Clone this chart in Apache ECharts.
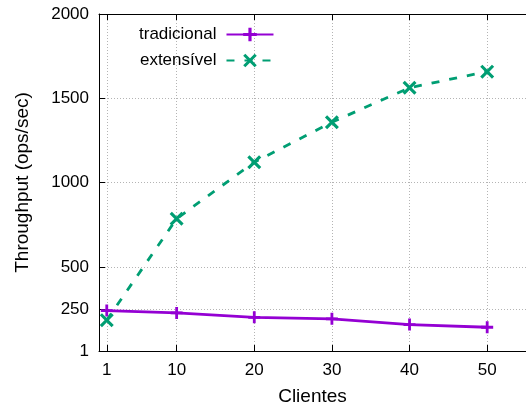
<!DOCTYPE html>
<html>
<head>
<meta charset="utf-8">
<script src="https://cdn.jsdelivr.net/npm/echarts@6/dist/echarts.min.js"></script>
<style>html,body{margin:0;padding:0;background:#fff;}#c{width:526px;height:411px;}</style>
</head>
<body>
<div id="c"></div>
<script>
const clientes = [1, 10, 20, 30, 40, 50];
const tradicional = [241, 227, 201, 192, 158, 142];
const extensivel = [184, 786, 1121, 1358, 1563, 1658];
const xTicks = [1, 10, 20, 30, 40, 50];
const yTicks = [1, 250, 500, 1000, 1500, 2000];

const FONT = 'Liberation Sans';
const PLUS = 'path://M4.6,0H7.4V4.6H12V7.4H7.4V12H4.6V7.4H0V4.6H4.6Z';
const CROSS = 'path://M0,1.9L1.9,0L12,10.1L10.1,12ZM10.1,0L12,1.9L1.9,12L0,10.1Z';

const chart = echarts.init(document.getElementById('c'), null, {renderer: 'canvas'});
const gridLine = {show: true, lineStyle: {color: '#b4b4b4', width: 1, type: [1, 2]}};
chart.setOption({
  animation: false,
  backgroundColor: '#fff',
  textStyle: {fontFamily: FONT},
  grid: {left: 99, top: 14, bottom: 59, right: -6, containLabel: false},
  legend: {
    orient: 'vertical', align: 'right', left: 134, top: 21,
    itemWidth: 47, itemHeight: 17, itemGap: 9,
    textStyle: {fontFamily: FONT, fontSize: 17, color: '#000', padding: [0, 5, 0, 0]},
    data: ['tradicional', 'extensível']
  },
  xAxis: [{
    type: 'value', min: 0, max: 55, position: 'bottom',
    name: 'Clientes', nameLocation: 'middle', nameGap: 36,
    nameTextStyle: {fontFamily: FONT, fontSize: 19, color: '#000'},
    axisLine: {show: true, onZero: false, lineStyle: {color: '#000', width: 1}},
    axisTick: {show: true, inside: true, length: 6, customValues: xTicks, lineStyle: {color: '#000'}},
    axisLabel: {customValues: xTicks, fontFamily: FONT, fontSize: 17, color: '#000', margin: 11},
    splitLine: gridLine
  }, {
    type: 'value', min: 0, max: 55, position: 'top',
    axisLine: {show: true, onZero: false, lineStyle: {color: '#000', width: 1}},
    axisTick: {show: true, inside: true, length: 6, customValues: xTicks, lineStyle: {color: '#000'}},
    axisLabel: {show: false},
    splitLine: {show: false}
  }],
  yAxis: [{
    type: 'value', min: 1, max: 2000, position: 'left',
    name: 'Throughput (ops/sec)', nameLocation: 'middle', nameGap: 67,
    nameTextStyle: {fontFamily: FONT, fontSize: 19, color: '#000'},
    axisLine: {show: true, onZero: false, lineStyle: {color: '#000', width: 1}},
    axisTick: {show: true, inside: true, length: 6, customValues: yTicks, lineStyle: {color: '#000'}},
    axisLabel: {customValues: yTicks, formatter: v => String(v), fontFamily: FONT, fontSize: 17, color: '#000', margin: 10},
    splitLine: gridLine
  }],
  series: [{
    name: 'tradicional', type: 'line', xAxisIndex: 0, yAxisIndex: 0,
    data: clientes.map((c, i) => [c, tradicional[i]]),
    symbol: PLUS, symbolSize: 12, showAllSymbol: true,
    lineStyle: {color: '#9400d3', width: 2.8},
    itemStyle: {color: '#9400d3', borderWidth: 0},
    z: 3
  }, {
    name: 'extensível', type: 'line', xAxisIndex: 0, yAxisIndex: 0,
    data: clientes.map((c, i) => [c, extensivel[i]]),
    symbol: CROSS, symbolSize: 14, showAllSymbol: true,
    lineStyle: {color: '#009e73', width: 2.8, type: [8, 10]},
    itemStyle: {color: '#009e73', borderWidth: 0},
    z: 3
  }]
});
</script>
</body>
</html>
